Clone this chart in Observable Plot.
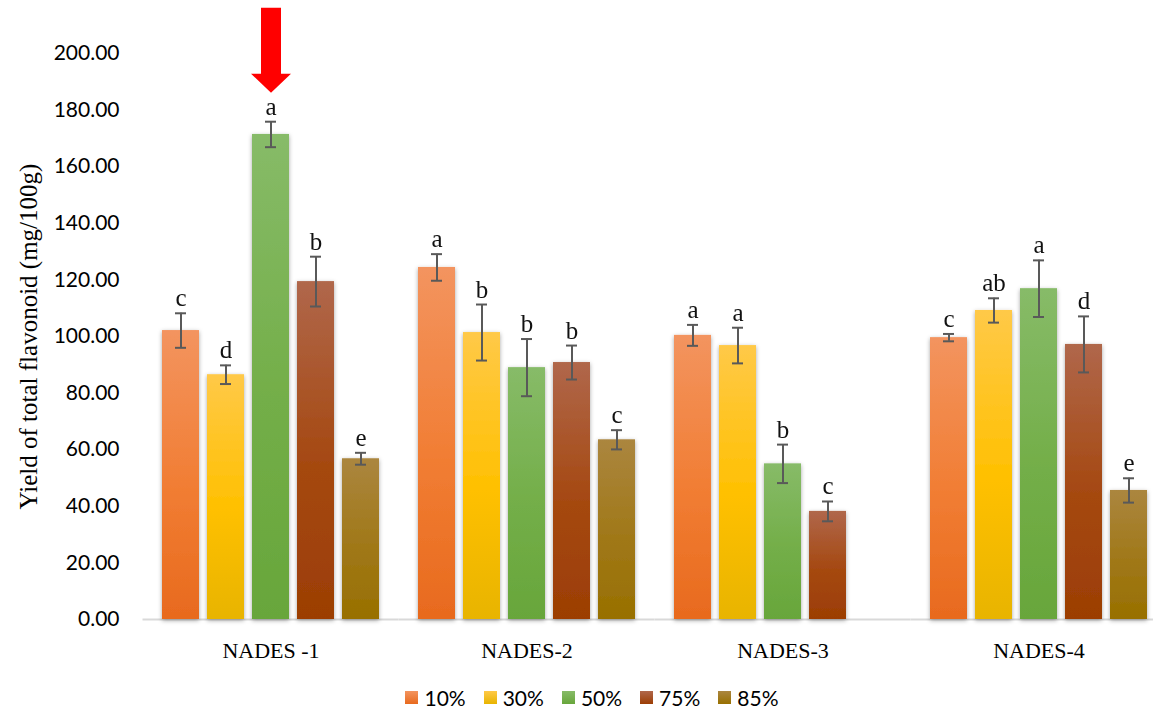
<!DOCTYPE html>
<html>
<head>
<meta charset="utf-8">
<script src="https://cdn.jsdelivr.net/npm/d3@7"></script>
<script src="https://cdn.jsdelivr.net/npm/@observablehq/plot@0.6"></script>
<style>
  body { margin: 0; background: #fff; }
  #chart svg { display: block; }
  g[aria-label="y-axis tick label"] text { font-family: Lato, "Open Sans", sans-serif; font-size: 21px; fill: #000; }
  g[aria-label="fx-axis tick label"] text { font-family: "Liberation Serif", serif; font-size: 22px; fill: #000; }
  .legend { display: flex; justify-content: center; align-items: center; padding-top: 5px; padding-left: 31px;
            font-family: Lato, "Open Sans", sans-serif; font-size: 21px; color: #000; }
  .legend .item { display: flex; align-items: center; margin: 0 9px; }
  .legend .sw { width: 13px; height: 13px; margin-right: 6px; }
</style>
</head>
<body>
<div id="chart"></div>
<div class="legend" id="legend"></div>
<script>
// ---- data ----
const groups = ["NADES -1", "NADES-2", "NADES-3", "NADES-4"];
const series = ["10%", "30%", "50%", "75%", "85%"];
const values = [
  [102.1, 86.5, 171.4, 119.4, 56.8],
  [124.4, 101.4, 89.0, 90.8, 63.5],
  [100.4, 96.8, 55.0, 38.2, null],
  [99.6, 109.2, 116.9, 97.2, 45.6]
];
const errors = [
  [6.1, 3.3, 4.5, 8.8, 2.1],
  [4.7, 9.9, 10.1, 6.0, 3.4],
  [3.7, 6.3, 6.8, 3.5, null],
  [1.3, 4.3, 10.0, 9.9, 4.3]
];
const letters = [
  ["c", "d", "a", "b", "e"],
  ["a", "b", "b", "b", "c"],
  ["a", "a", "b", "c", null],
  ["c", "ab", "a", "d", "e"]
];
const yTicks = [0, 20, 40, 60, 80, 100, 120, 140, 160, 180, 200];
const yTitle = "Yield of total flavonoid (mg/100g)";
const highlighted = [{group: "NADES -1", series: "50%"}];

// ---- palette (top, middle, bottom of each bar gradient) ----
const palette = [
  ["#F3945F", "#F17D33", "#E86A1E"],
  ["#FFC948", "#FFC000", "#E8B400"],
  ["#87BB68", "#73AE48", "#68A63B"],
  ["#B0674B", "#A54810", "#9C3E04"],
  ["#AB863F", "#A07818", "#987000"]
];

const rows = [];
groups.forEach((g, gi) => series.forEach((s, si) => {
  if (values[gi][si] != null) rows.push({group: g, series: s, value: values[gi][si], err: errors[gi][si], letter: letters[gi][si]});
}));
const arrowRows = highlighted.map(h => rows.find(r => r.group === h.group && r.series === h.series));

const arrowSymbol = {
  draw(ctx, size) {
    const k = Math.sqrt(size / Math.PI);
    ctx.moveTo(0, 0);
    ctx.lineTo(-20 * k, -19 * k);
    ctx.lineTo(-10 * k, -19 * k);
    ctx.lineTo(-10 * k, -85 * k);
    ctx.lineTo(10 * k, -85 * k);
    ctx.lineTo(10 * k, -19 * k);
    ctx.lineTo(20 * k, -19 * k);
    ctx.closePath();
  }
};

const chart = Plot.plot({
  width: 1153,
  height: 680,
  marginTop: 53,
  marginBottom: 61,
  marginLeft: 159,
  marginRight: 2,
  fx: {domain: groups, paddingInner: 0.136, paddingOuter: 0, label: null, axis: "bottom", tickSize: 0, tickPadding: 23},
  x: {domain: series, paddingInner: 0.174, paddingOuter: 0, axis: null},
  y: {domain: [0, 200], ticks: yTicks, tickSize: 0, tickPadding: 41, tickFormat: d => d.toFixed(2), label: null},
  color: {domain: series, range: series.map((s, i) => `url(#grad${i})`)},
  marks: [
    Plot.ruleY([0], {stroke: "#d9d9d9", strokeWidth: 2, insetLeft: -17.5, insetRight: -17.5}),
    Plot.barY(rows, {fx: "group", x: "series", y: "value", fill: "series"}),
    Plot.ruleX(rows, {fx: "group", x: "series", y1: d => d.value - d.err, y2: d => d.value + d.err, stroke: "#595959", strokeWidth: 2}),
    Plot.tickY(rows, {fx: "group", x: "series", y: d => d.value + d.err, stroke: "#595959", strokeWidth: 2, insetLeft: 13, insetRight: 13}),
    Plot.tickY(rows, {fx: "group", x: "series", y: d => d.value - d.err, stroke: "#595959", strokeWidth: 2, insetLeft: 13, insetRight: 13}),
    Plot.text(rows, {fx: "group", x: "series", y: d => d.value + d.err, text: "letter", dy: -7, lineAnchor: "bottom",
      fontSize: 25, fontFamily: "Liberation Serif", fill: "#111"}),
    Plot.dot(arrowRows, {fx: "group", x: "series", y: d => d.value + d.err, dy: -29, r: 1, symbol: arrowSymbol, fill: "#FF0000", stroke: "none"}),
    Plot.text([yTitle], {fx: () => groups[0], frameAnchor: "left", text: d => d, rotate: -90, dx: -132, textAnchor: "middle",
      fontSize: 25, fontFamily: "Liberation Serif", fill: "#000"})
  ]
});

// gradients and shadow
const svgSel = d3.select(chart);
const defs = svgSel.insert("defs", ":first-child");
palette.forEach((p, i) => {
  const lg = defs.append("linearGradient").attr("id", `grad${i}`).attr("x1", 0).attr("y1", 0).attr("x2", 0).attr("y2", 1);
  lg.append("stop").attr("offset", "0%").attr("stop-color", p[0]);
  lg.append("stop").attr("offset", "55%").attr("stop-color", p[1]);
  lg.append("stop").attr("offset", "100%").attr("stop-color", p[2]);
});
const f = defs.append("filter").attr("id", "shadow").attr("x", "-30%").attr("y", "-10%").attr("width", "160%").attr("height", "120%");
f.append("feDropShadow").attr("dx", 0).attr("dy", 1.5).attr("stdDeviation", 2.2).attr("flood-color", "#000").attr("flood-opacity", 0.35);
svgSel.selectAll('g[aria-label="bar"]').attr("filter", "url(#shadow)");

document.getElementById("chart").appendChild(chart);

// legend
const legend = document.getElementById("legend");
series.forEach((s, i) => {
  const item = document.createElement("div");
  item.className = "item";
  const sw = document.createElement("div");
  sw.className = "sw";
  sw.style.background = `linear-gradient(${palette[i][0]}, ${palette[i][2]})`;
  const t = document.createElement("span");
  t.textContent = s;
  item.appendChild(sw);
  item.appendChild(t);
  legend.appendChild(item);
});
</script>
</body>
</html>
